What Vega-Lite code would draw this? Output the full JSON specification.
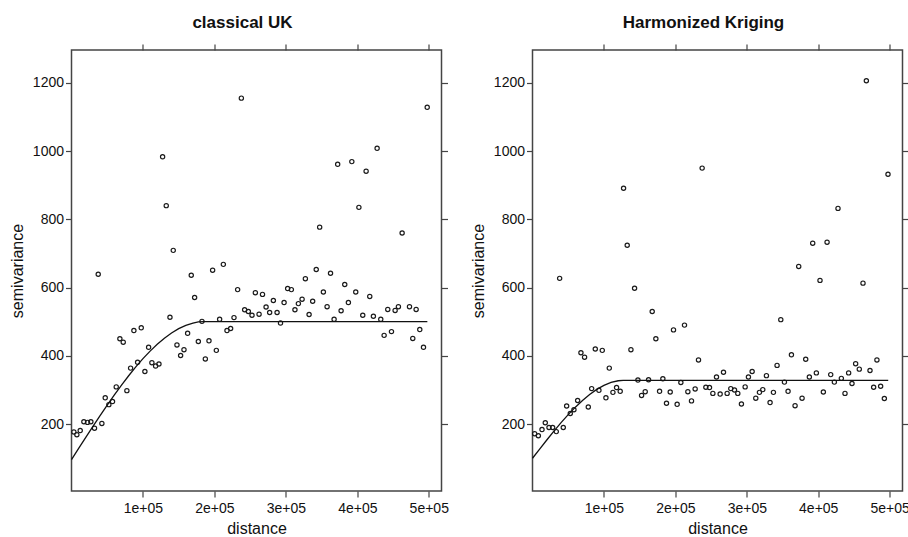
{
  "$schema": "https://vega.github.io/schema/vega-lite/v6.json",
  "padding": {"left": 8.5, "top": 13, "right": 0, "bottom": 0},
  "bounds": "flush",
  "spacing": 91,
  "background": "white",
  "config": {
    "font": "Liberation Sans",
    "view": {"stroke": "#444", "strokeWidth": 1.5},
    "axis": {
      "grid": false,
      "domain": false,
      "tickSize": 6,
      "tickColor": "#444",
      "tickWidth": 1.2,
      "labelFont": "Liberation Sans",
      "labelFontSize": 14,
      "labelColor": "#111",
      "labelFlush": false,
      "labelOverlap": false,
      "titleFont": "Liberation Sans",
      "titleFontSize": 16,
      "titleFontWeight": "normal",
      "titleColor": "#111"
    },
    "title": {"font": "Liberation Sans", "fontSize": 17, "fontWeight": "bold", "color": "#111", "anchor": "middle", "frame": "group", "dx": -14, "offset": 11}
  },
  "datasets": {
    "uk": [
      {"distance": 3300, "gamma": 177}, {"distance": 7500, "gamma": 169}, {"distance": 12200, "gamma": 181},
      {"distance": 17300, "gamma": 207}, {"distance": 22400, "gamma": 205}, {"distance": 27100, "gamma": 207},
      {"distance": 32200, "gamma": 188}, {"distance": 37400, "gamma": 639}, {"distance": 42500, "gamma": 202},
      {"distance": 47200, "gamma": 277}, {"distance": 52300, "gamma": 257}, {"distance": 57400, "gamma": 266},
      {"distance": 62600, "gamma": 309}, {"distance": 67700, "gamma": 450}, {"distance": 72400, "gamma": 440},
      {"distance": 77500, "gamma": 298}, {"distance": 82700, "gamma": 364}, {"distance": 87300, "gamma": 474},
      {"distance": 92500, "gamma": 381}, {"distance": 97600, "gamma": 482}, {"distance": 102700, "gamma": 354},
      {"distance": 107900, "gamma": 425}, {"distance": 112500, "gamma": 380}, {"distance": 117700, "gamma": 370},
      {"distance": 122400, "gamma": 376}, {"distance": 127500, "gamma": 983}, {"distance": 132600, "gamma": 840},
      {"distance": 137800, "gamma": 513}, {"distance": 142400, "gamma": 709}, {"distance": 147600, "gamma": 432},
      {"distance": 152700, "gamma": 401}, {"distance": 157400, "gamma": 418}, {"distance": 162500, "gamma": 466},
      {"distance": 167600, "gamma": 636}, {"distance": 172300, "gamma": 571}, {"distance": 177500, "gamma": 442},
      {"distance": 182600, "gamma": 501}, {"distance": 187300, "gamma": 391}, {"distance": 192400, "gamma": 444},
      {"distance": 197500, "gamma": 651}, {"distance": 202700, "gamma": 416}, {"distance": 207300, "gamma": 507},
      {"distance": 212500, "gamma": 668}, {"distance": 217600, "gamma": 474}, {"distance": 222700, "gamma": 480},
      {"distance": 227400, "gamma": 512}, {"distance": 232500, "gamma": 594}, {"distance": 237700, "gamma": 1155},
      {"distance": 242300, "gamma": 535}, {"distance": 247500, "gamma": 530}, {"distance": 252600, "gamma": 519},
      {"distance": 257300, "gamma": 585}, {"distance": 262500, "gamma": 522}, {"distance": 267300, "gamma": 580},
      {"distance": 272300, "gamma": 543}, {"distance": 277300, "gamma": 527}, {"distance": 282500, "gamma": 562},
      {"distance": 287700, "gamma": 527}, {"distance": 292500, "gamma": 496}, {"distance": 297500, "gamma": 556},
      {"distance": 302500, "gamma": 597}, {"distance": 307700, "gamma": 594}, {"distance": 312700, "gamma": 535},
      {"distance": 317500, "gamma": 553}, {"distance": 322700, "gamma": 566}, {"distance": 327300, "gamma": 626},
      {"distance": 332500, "gamma": 521}, {"distance": 337500, "gamma": 560}, {"distance": 342500, "gamma": 653},
      {"distance": 347300, "gamma": 777}, {"distance": 352500, "gamma": 587}, {"distance": 357700, "gamma": 544},
      {"distance": 362500, "gamma": 642}, {"distance": 367500, "gamma": 507}, {"distance": 372500, "gamma": 961},
      {"distance": 377300, "gamma": 532}, {"distance": 382400, "gamma": 609}, {"distance": 387500, "gamma": 556},
      {"distance": 392300, "gamma": 969}, {"distance": 397800, "gamma": 587}, {"distance": 402200, "gamma": 835},
      {"distance": 407600, "gamma": 519}, {"distance": 412300, "gamma": 941}, {"distance": 417400, "gamma": 574},
      {"distance": 422500, "gamma": 516}, {"distance": 427700, "gamma": 1008}, {"distance": 432800, "gamma": 507},
      {"distance": 437500, "gamma": 460}, {"distance": 442600, "gamma": 536}, {"distance": 447800, "gamma": 471},
      {"distance": 452900, "gamma": 533}, {"distance": 457500, "gamma": 544}, {"distance": 462700, "gamma": 760},
      {"distance": 473000, "gamma": 544}, {"distance": 477600, "gamma": 451}, {"distance": 482300, "gamma": 536},
      {"distance": 487400, "gamma": 477}, {"distance": 492600, "gamma": 425}, {"distance": 497800, "gamma": 1128}
    ],
    "ukfit": [
      {"distance": 0, "gamma": 96}, {"distance": 10000, "gamma": 128.7}, {"distance": 20000, "gamma": 161.3},
      {"distance": 30000, "gamma": 193.4}, {"distance": 40000, "gamma": 225}, {"distance": 50000, "gamma": 255.8},
      {"distance": 60000, "gamma": 285.6}, {"distance": 70000, "gamma": 314.4}, {"distance": 80000, "gamma": 341.7},
      {"distance": 90000, "gamma": 367.5}, {"distance": 100000, "gamma": 391.7}, {"distance": 110000, "gamma": 413.9},
      {"distance": 120000, "gamma": 434}, {"distance": 130000, "gamma": 451.8}, {"distance": 140000, "gamma": 467},
      {"distance": 150000, "gamma": 479.7}, {"distance": 160000, "gamma": 489.4}, {"distance": 170000, "gamma": 496.1},
      {"distance": 177500, "gamma": 499.2}, {"distance": 185000, "gamma": 500}, {"distance": 498000, "gamma": 500}
    ],
    "hk": [
      {"distance": 3000, "gamma": 172}, {"distance": 8200, "gamma": 166}, {"distance": 13300, "gamma": 184},
      {"distance": 17900, "gamma": 204}, {"distance": 23100, "gamma": 190}, {"distance": 28200, "gamma": 190},
      {"distance": 33300, "gamma": 178}, {"distance": 38000, "gamma": 627}, {"distance": 43100, "gamma": 190},
      {"distance": 47800, "gamma": 253}, {"distance": 52900, "gamma": 231}, {"distance": 58000, "gamma": 242},
      {"distance": 63200, "gamma": 269}, {"distance": 67800, "gamma": 409}, {"distance": 72900, "gamma": 396},
      {"distance": 78100, "gamma": 250}, {"distance": 82800, "gamma": 304}, {"distance": 87900, "gamma": 420},
      {"distance": 93000, "gamma": 299}, {"distance": 97700, "gamma": 416}, {"distance": 102800, "gamma": 277},
      {"distance": 107500, "gamma": 364}, {"distance": 112600, "gamma": 293}, {"distance": 117700, "gamma": 307},
      {"distance": 122800, "gamma": 296}, {"distance": 127500, "gamma": 891}, {"distance": 132600, "gamma": 724},
      {"distance": 137800, "gamma": 418}, {"distance": 142900, "gamma": 598}, {"distance": 147600, "gamma": 329},
      {"distance": 152700, "gamma": 284}, {"distance": 157800, "gamma": 295}, {"distance": 162500, "gamma": 330},
      {"distance": 167600, "gamma": 530}, {"distance": 172700, "gamma": 450}, {"distance": 177900, "gamma": 296},
      {"distance": 182500, "gamma": 333}, {"distance": 187600, "gamma": 261}, {"distance": 192800, "gamma": 294},
      {"distance": 197400, "gamma": 476}, {"distance": 202500, "gamma": 258}, {"distance": 207700, "gamma": 322},
      {"distance": 212800, "gamma": 490}, {"distance": 217500, "gamma": 295}, {"distance": 222600, "gamma": 268},
      {"distance": 227700, "gamma": 303}, {"distance": 232400, "gamma": 388}, {"distance": 237500, "gamma": 950},
      {"distance": 242700, "gamma": 308}, {"distance": 247800, "gamma": 307}, {"distance": 252500, "gamma": 290},
      {"distance": 257600, "gamma": 338}, {"distance": 262700, "gamma": 288}, {"distance": 267400, "gamma": 352},
      {"distance": 272500, "gamma": 290}, {"distance": 277600, "gamma": 304}, {"distance": 282800, "gamma": 300},
      {"distance": 287400, "gamma": 290}, {"distance": 292500, "gamma": 259}, {"distance": 297700, "gamma": 309},
      {"distance": 302300, "gamma": 338}, {"distance": 307500, "gamma": 354}, {"distance": 312600, "gamma": 276},
      {"distance": 317700, "gamma": 293}, {"distance": 322400, "gamma": 301}, {"distance": 327500, "gamma": 342},
      {"distance": 332600, "gamma": 263}, {"distance": 337300, "gamma": 293}, {"distance": 342400, "gamma": 372},
      {"distance": 347600, "gamma": 506}, {"distance": 352700, "gamma": 323}, {"distance": 357800, "gamma": 296},
      {"distance": 362500, "gamma": 403}, {"distance": 367600, "gamma": 254}, {"distance": 372700, "gamma": 662},
      {"distance": 377400, "gamma": 276}, {"distance": 382500, "gamma": 390}, {"distance": 387600, "gamma": 338},
      {"distance": 392300, "gamma": 730}, {"distance": 397400, "gamma": 350}, {"distance": 402500, "gamma": 621},
      {"distance": 407200, "gamma": 294}, {"distance": 412400, "gamma": 733}, {"distance": 417500, "gamma": 345},
      {"distance": 422600, "gamma": 323}, {"distance": 427700, "gamma": 832}, {"distance": 432400, "gamma": 334},
      {"distance": 437500, "gamma": 290}, {"distance": 442600, "gamma": 350}, {"distance": 447300, "gamma": 319},
      {"distance": 452400, "gamma": 377}, {"distance": 457500, "gamma": 361}, {"distance": 462700, "gamma": 613},
      {"distance": 467400, "gamma": 1206}, {"distance": 472500, "gamma": 357}, {"distance": 477600, "gamma": 308},
      {"distance": 482200, "gamma": 388}, {"distance": 487400, "gamma": 311}, {"distance": 492600, "gamma": 275},
      {"distance": 497700, "gamma": 932}
    ],
    "hkfit": [
      {"distance": 0, "gamma": 100}, {"distance": 10000, "gamma": 126.9}, {"distance": 20000, "gamma": 153.4},
      {"distance": 30000, "gamma": 179.3}, {"distance": 40000, "gamma": 204.2}, {"distance": 50000, "gamma": 227.7},
      {"distance": 60000, "gamma": 249.6}, {"distance": 70000, "gamma": 269.4}, {"distance": 80000, "gamma": 286.9},
      {"distance": 90000, "gamma": 301.8}, {"distance": 100000, "gamma": 313.6}, {"distance": 110000, "gamma": 322.1},
      {"distance": 120000, "gamma": 327}, {"distance": 127000, "gamma": 328}, {"distance": 498000, "gamma": 328}
    ]
  },
  "hconcat": [
    {
      "title": "classical UK",
      "width": 370,
      "height": 441,
      "resolve": {"axis": {"x": "independent", "y": "independent"}},
      "layer": [
        {
          "data": {"name": "uk"},
          "mark": {"type": "point", "shape": "circle", "filled": false, "size": 18, "strokeWidth": 1.2, "color": "#1a1a1a", "opacity": 1},
          "encoding": {
            "x": {"field": "distance", "type": "quantitative", "scale": {"domain": [0, 517800], "nice": false, "zero": false},
                  "axis": {"orient": "bottom", "title": "distance", "values": [100000, 200000, 300000, 400000, 500000], "labelExpr": "format(datum.value/100000, 'd') + 'e+05'", "labelPadding": 4, "titlePadding": 5}},
            "y": {"field": "gamma", "type": "quantitative", "scale": {"domain": [4, 1296], "nice": false, "zero": false},
                  "axis": {"orient": "left", "title": "semivariance", "format": "d", "values": [200, 400, 600, 800, 1000, 1200], "labelPadding": 2, "titlePadding": 7}}
          }
        },
        {
          "data": {"name": "ukfit"},
          "mark": {"type": "line", "color": "#111", "strokeWidth": 1.3},
          "encoding": {
            "x": {"field": "distance", "type": "quantitative", "axis": {"orient": "top", "title": null, "labels": false, "values": [100000, 200000, 300000, 400000, 500000]}},
            "y": {"field": "gamma", "type": "quantitative", "axis": {"orient": "right", "title": null, "labels": false, "values": [200, 400, 600, 800, 1000, 1200]}}
          }
        }
      ]
    },
    {
      "title": "Harmonized Kriging",
      "width": 370,
      "height": 441,
      "resolve": {"axis": {"x": "independent", "y": "independent"}},
      "layer": [
        {
          "data": {"name": "hk"},
          "mark": {"type": "point", "shape": "circle", "filled": false, "size": 18, "strokeWidth": 1.2, "color": "#1a1a1a", "opacity": 1},
          "encoding": {
            "x": {"field": "distance", "type": "quantitative", "scale": {"domain": [0, 518000], "nice": false, "zero": false},
                  "axis": {"orient": "bottom", "title": "distance", "values": [100000, 200000, 300000, 400000, 500000], "labelExpr": "format(datum.value/100000, 'd') + 'e+05'", "labelPadding": 4, "titlePadding": 5}},
            "y": {"field": "gamma", "type": "quantitative", "scale": {"domain": [4, 1296], "nice": false, "zero": false},
                  "axis": {"orient": "left", "title": "semivariance", "format": "d", "values": [200, 400, 600, 800, 1000, 1200], "labelPadding": 2, "titlePadding": 7}}
          }
        },
        {
          "data": {"name": "hkfit"},
          "mark": {"type": "line", "color": "#111", "strokeWidth": 1.3},
          "encoding": {
            "x": {"field": "distance", "type": "quantitative", "axis": {"orient": "top", "title": null, "labels": false, "values": [100000, 200000, 300000, 400000, 500000]}},
            "y": {"field": "gamma", "type": "quantitative", "axis": {"orient": "right", "title": null, "labels": false, "values": [200, 400, 600, 800, 1000, 1200]}}
          }
        }
      ]
    }
  ]
}
